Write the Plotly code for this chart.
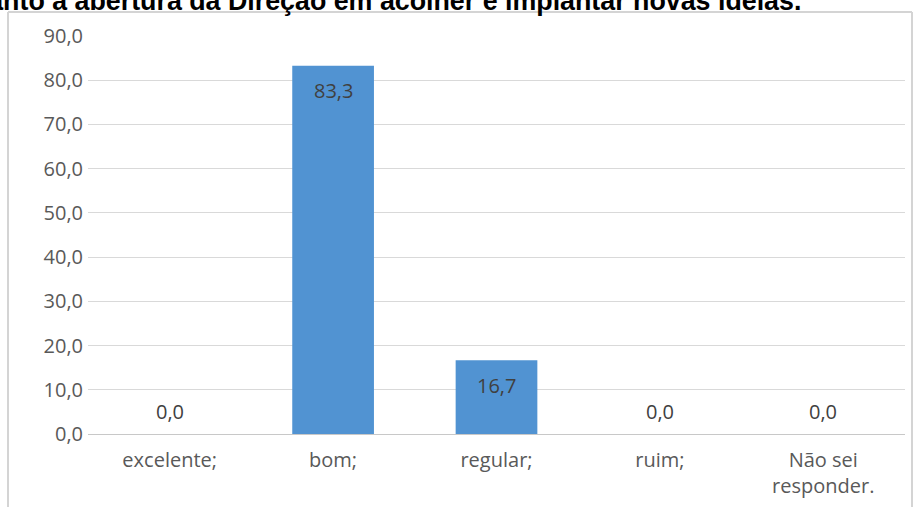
import plotly.graph_objects as go

# Respostas (%) sobre a abertura da Direção a novas ideias
categorias = ["excelente;", "bom;", "regular;", "ruim;", "Não sei<br>responder."]
percentuais = [0.0, 83.3, 16.7, 0.0, 0.0]
titulo = "Quanto à abertura da Direção em acolher e implantar novas ideias."

W, H = 914, 507
ML, MR, MT, MB = 88, 9, 36, 73
PW, PH = W - ML - MR, H - MT - MB


def px_x(p):
    return (p - ML) / PW


def px_y(p):
    return (H - MB - p) / PH


fig = go.Figure(
    go.Bar(
        x=categorias,
        y=percentuais,
        width=0.5,
        marker=dict(color="#5193d2", line=dict(width=0)),
        hoverinfo="skip",
    )
)

# rótulos de valor: dentro da barra no topo, ou acima da base quando pequeno
for c, v in zip(categorias, percentuais):
    dentro = v >= 10
    fig.add_annotation(
        x=c, y=v, xref="x", yref="y",
        text=f"{v:.1f}".replace(".", ","),
        showarrow=False, yanchor="middle",
        yshift=-25 if dentro else 23,
        font=dict(family="Open Sans", size=20, color="#404040"),
    )

# título (parcialmente fora da página)
fig.add_annotation(
    x=px_x(803), y=px_y(18), xref="paper", yref="paper",
    xanchor="right", yanchor="bottom", showarrow=False,
    text=f"<b>{titulo}</b>",
    font=dict(family="Liberation Sans", size=26.8, color="#000000"),
)

# moldura do gráfico
borda = dict(color="#d4d4d4", width=2)
fig.add_shape(type="line", xref="paper", yref="paper",
              x0=px_x(8), x1=px_x(8), y0=px_y(12), y1=px_y(H + 5), line=borda)
fig.add_shape(type="line", xref="paper", yref="paper",
              x0=px_x(8), x1=px_x(912), y0=px_y(12), y1=px_y(12), line=borda)
fig.add_shape(type="line", xref="paper", yref="paper",
              x0=px_x(912), x1=px_x(912), y0=px_y(12), y1=px_y(H + 5), line=borda)

fig.update_layout(
    width=W, height=H,
    margin=dict(l=ML, r=MR, t=MT, b=MB),
    paper_bgcolor="white", plot_bgcolor="white",
    separators=",.",
    showlegend=False,
    font=dict(family="Open Sans", size=20, color="#595959"),
    xaxis=dict(
        showgrid=False, showline=True, linecolor="#c8c8c8", linewidth=1,
        ticks="", ticklabelstandoff=8, tickfont=dict(size=20),
        automargin=False, fixedrange=True,
    ),
    yaxis=dict(
        range=[0, 90], dtick=10, tickformat=".1f",
        showgrid=True, gridcolor="#d9d9d9", gridwidth=1,
        zeroline=False, showline=False, ticks="",
        ticklabelstandoff=4, tickfont=dict(size=20),
        automargin=False, fixedrange=True,
    ),
)

fig.write_html("out.html")
